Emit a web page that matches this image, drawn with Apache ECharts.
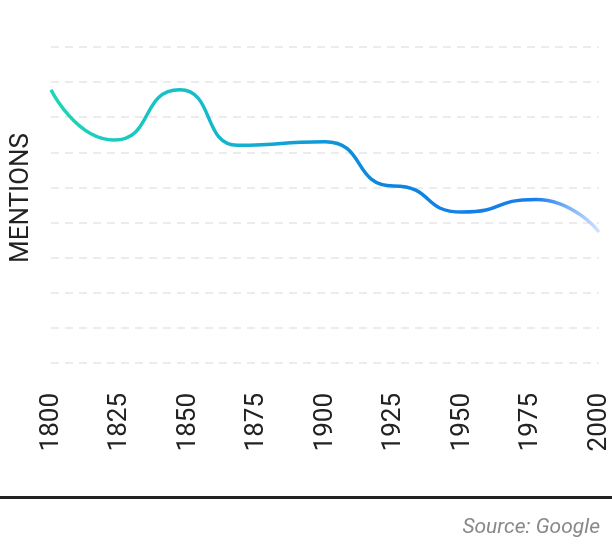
<!DOCTYPE html>
<html><head><meta charset="utf-8">
<script src="https://cdn.jsdelivr.net/npm/echarts@6/dist/echarts.min.js"></script>
<style>html,body{margin:0;padding:0;background:#fff}#c{width:612px;height:544px}</style>
</head><body><div id="c"></div>
<script>
const years = [1800,1823,1847,1868,1900,1925,1950,1977,2000];
const mentions = [7.78,6.35,7.78,6.2,6.3,5.04,4.3,4.66,3.73];
const tickYears = [1800,1825,1850,1875,1900,1925,1950,1975,2000];
const chart = echarts.init(document.getElementById('c'));
chart.setOption({
  animation:false,
  grid:{left:45,right:7,top:47,bottom:181},
  xAxis:{type:'value',min:1800,max:2000,interval:25,
    axisLine:{show:false},axisTick:{show:false},splitLine:{show:false},
    axisLabel:{rotate:90,fontSize:26,fontFamily:'Roboto, sans-serif',margin:30,
      color:v=>v===2000?'#b5b5b5':'#222222',formatter:v=>String(v)}},
  yAxis:{type:'value',min:0,max:9,interval:1,
    name:'MENTIONS',nameLocation:'middle',nameRotate:90,nameGap:17,
    nameTextStyle:{fontSize:26,color:'#222',fontFamily:'Roboto, sans-serif',padding:[0,0,0,14]},
    axisLabel:{show:false},axisLine:{show:false},axisTick:{show:false},
    splitLine:{lineStyle:{type:[8,6],color:'#e6e6e6',width:1.5}}},
  series:[{type:'line',smooth:0.6,smoothMonotone:'x',symbol:'none',
    data:years.map((y,i)=>[y,mentions[i]]),
    lineStyle:{width:3.5,color:new echarts.graphic.LinearGradient(0,0,1,0,[
      {offset:0,color:'#1ed6b4'},{offset:0.3,color:'#16b8cc'},
      {offset:0.6,color:'#0a86e0'},{offset:0.88,color:'#1a7ceb'},{offset:1,color:'#d8e6ff'}])}}],
  graphic:[
    {type:'rect',shape:{x:0,y:496,width:612,height:3},style:{fill:'#222'}},
    {type:'text',right:12,top:517,style:{text:'Source: Google',fontSize:21,fontStyle:'italic',fill:'#888',fontFamily:'Roboto, sans-serif'}}
  ]
});
</script></body></html>
